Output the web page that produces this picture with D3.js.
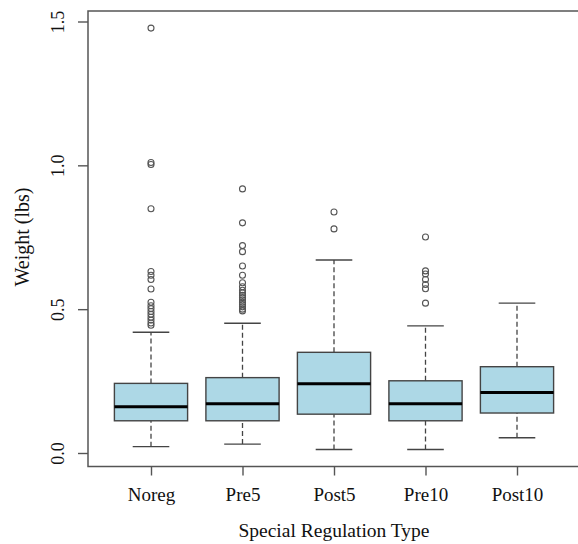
<!DOCTYPE html>
<html>
<head>
<meta charset="utf-8">
<script src="https://cdn.jsdelivr.net/npm/d3@7"></script>
<style>
  body { margin: 0; background: #fff; }
  svg text { font-family: "Liberation Serif", "DejaVu Serif", serif; fill: #111; }
</style>
</head>
<body>
<svg width="578" height="544"></svg>
<script>
// summary stats
const categories = ["Noreg", "Pre5", "Post5", "Pre10", "Post10"];
const whiskerLow  = [0.022, 0.031, 0.012, 0.012, 0.053];
const q1          = [0.112, 0.112, 0.135, 0.112, 0.139];
const median      = [0.161, 0.171, 0.241, 0.171, 0.210];
const q3          = [0.242, 0.262, 0.350, 0.251, 0.300];
const whiskerHigh = [0.420, 0.451, 0.671, 0.442, 0.521];
const outliers = [
  [1.477, 1.01, 1.003, 0.849, 0.631, 0.618, 0.603, 0.570, 0.524, 0.512, 0.502, 0.492, 0.482, 0.472, 0.462, 0.452, 0.444],
  [0.918, 0.800, 0.721, 0.700, 0.650, 0.618, 0.592, 0.578, 0.566, 0.556, 0.548, 0.540, 0.532, 0.524, 0.516, 0.508, 0.500, 0.494],
  [0.838, 0.779],
  [0.751, 0.633, 0.622, 0.603, 0.586, 0.571, 0.521],
  []
];
const yTicks = [0, 0.5, 1.0, 1.5];

const frame = {left: 88, top: 11, right: 581, bottom: 466.5};

const svg = d3.select("svg");

const y = d3.scaleLinear()
    .domain([0, 1.5])
    .range([453, 21.5]);

const x = d3.scalePoint()
    .domain(categories)
    .range([151, 517]);

const step = x.step();
const boxW = step * 0.8;
const capW = step * 0.4;

const data = categories.map((c, i) => ({
  cat: c, lo: whiskerLow[i], q1: q1[i], med: median[i], q3: q3[i], hi: whiskerHigh[i], out: outliers[i]
}));

// plot frame (right side falls outside the picture)
svg.append("rect")
    .attr("x", frame.left)
    .attr("y", frame.top)
    .attr("width", frame.right - frame.left)
    .attr("height", frame.bottom - frame.top)
    .attr("fill", "none")
    .attr("stroke", "#555")
    .attr("stroke-width", 1.5);

const g = svg.selectAll(".box")
    .data(data)
    .enter().append("g")
    .attr("class", "box")
    .attr("transform", d => "translate(" + x(d.cat) + ",0)");

// whiskers
g.append("line")
    .attr("x1", 0).attr("x2", 0)
    .attr("y1", d => y(d.lo)).attr("y2", d => y(d.q1))
    .attr("stroke", "#444").attr("stroke-width", 1.3)
    .attr("stroke-dasharray", "5,3");
g.append("line")
    .attr("x1", 0).attr("x2", 0)
    .attr("y1", d => y(d.q3)).attr("y2", d => y(d.hi))
    .attr("stroke", "#444").attr("stroke-width", 1.3)
    .attr("stroke-dasharray", "5,3");

// caps
[d => d.lo, d => d.hi].forEach(f => {
  g.append("line")
      .attr("x1", -capW / 2).attr("x2", capW / 2)
      .attr("y1", d => y(f(d))).attr("y2", d => y(f(d)))
      .attr("stroke", "#444").attr("stroke-width", 1.4);
});

// boxes
g.append("rect")
    .attr("x", -boxW / 2)
    .attr("width", boxW)
    .attr("y", d => y(d.q3))
    .attr("height", d => y(d.q1) - y(d.q3))
    .attr("fill", "#add8e6")
    .attr("stroke", "#444")
    .attr("stroke-width", 1.4);

// medians
g.append("line")
    .attr("x1", -boxW / 2).attr("x2", boxW / 2)
    .attr("y1", d => y(d.med)).attr("y2", d => y(d.med))
    .attr("stroke", "#000").attr("stroke-width", 3);

// outliers
g.selectAll(".dot")
    .data(d => d.out)
    .enter().append("circle")
    .attr("class", "dot")
    .attr("cx", 0)
    .attr("cy", v => y(v))
    .attr("r", 3)
    .attr("fill", "none")
    .attr("stroke", "#555")
    .attr("stroke-width", 1.1);

// y axis
const yAxis = svg.append("g")
    .attr("transform", "translate(" + frame.left + ",0)")
    .call(d3.axisLeft(y).tickValues(yTicks).tickFormat(d3.format(".1f")).tickSize(10).tickPadding(0));
yAxis.select(".domain").remove();
yAxis.selectAll(".tick line").attr("stroke", "#555").attr("stroke-width", 1.4);
yAxis.selectAll(".tick text")
    .attr("x", null).attr("dy", null)
    .attr("transform", "translate(-24,0) rotate(-90)")
    .attr("text-anchor", "middle")
    .style("font-size", "18px")
    .style("font-family", "Liberation Serif");

// x axis
const xAxis = svg.append("g")
    .attr("transform", "translate(0," + frame.bottom + ")")
    .call(d3.axisBottom(x).tickSize(9).tickPadding(0));
xAxis.select(".domain").remove();
xAxis.selectAll(".tick line").attr("stroke", "#555").attr("stroke-width", 1.4);
xAxis.selectAll(".tick text")
    .attr("y", 34).attr("dy", null)
    .style("font-size", "19px")
    .style("font-family", "Liberation Serif");

// axis titles
svg.append("text")
    .attr("x", 334)
    .attr("y", 537)
    .attr("text-anchor", "middle")
    .style("font-size", "19.5px")
    .text("Special Regulation Type");

svg.append("text")
    .attr("transform", "translate(29,237) rotate(-90)")
    .attr("text-anchor", "middle")
    .style("font-size", "20px")
    .text("Weight (lbs)");
</script>
</body>
</html>
